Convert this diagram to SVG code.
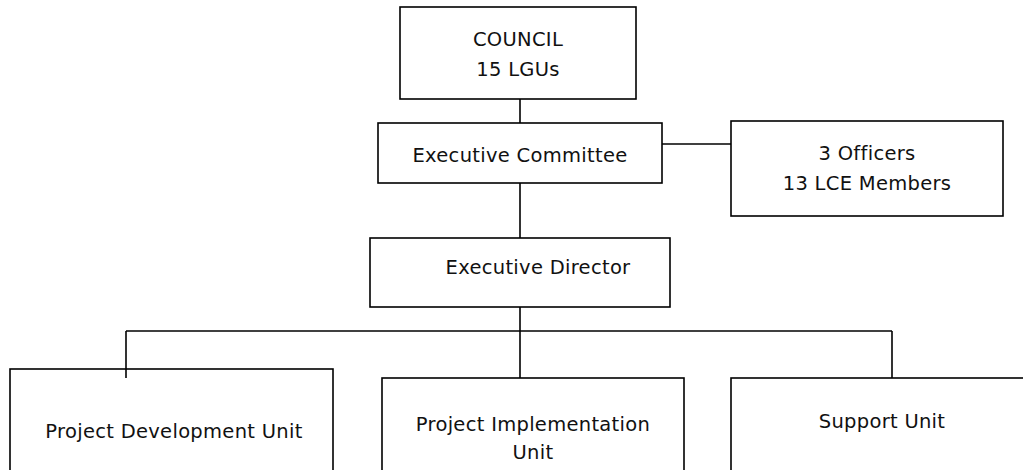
<svg xmlns="http://www.w3.org/2000/svg" width="1023" height="470" viewBox="0 0 1023 470">
  <style>
    .box { fill: #ffffff; stroke: #000000; stroke-width: 1.6; }
    .wire { fill: none; stroke: #000000; stroke-width: 1.6; }
    .lbl { font-family: "DejaVu Sans", "Liberation Sans", sans-serif; font-size: 19.5px; letter-spacing: 0.3px; fill: #111111; text-anchor: middle; }
  </style>
  <rect width="1023" height="470" fill="#ffffff"/>

  <!-- connectors -->
  <g id="connectors">
    <line class="wire" x1="520" y1="99" x2="520" y2="123"/>
    <line class="wire" x1="662" y1="144" x2="731" y2="144"/>
    <line class="wire" x1="520" y1="183" x2="520" y2="238"/>
    <line class="wire" x1="520" y1="307" x2="520" y2="378"/>
    <line class="wire" x1="126" y1="331" x2="892" y2="331"/>
    <line class="wire" x1="126" y1="331" x2="126" y2="378"/>
    <line class="wire" x1="892" y1="331" x2="892" y2="378"/>
  </g>

  <g id="council">
    <rect class="box" x="400" y="7" width="236" height="92"/>
    <text class="lbl" x="518" y="46">COUNCIL</text>
    <text class="lbl" x="518" y="76">15 LGUs</text>
  </g>

  <g id="executive-committee">
    <rect class="box" x="378" y="123" width="284" height="60"/>
    <text class="lbl" x="520" y="162">Executive Committee</text>
  </g>

  <g id="officers">
    <rect class="box" x="731" y="121" width="272" height="95"/>
    <text class="lbl" x="867" y="160">3 Officers</text>
    <text class="lbl" x="867" y="190">13 LCE Members</text>
  </g>

  <g id="executive-director">
    <rect class="box" x="370" y="238" width="300" height="69"/>
    <text class="lbl" x="538" y="274">Executive Director</text>
  </g>

  <g id="project-development-unit">
    <rect class="box" x="10" y="369" width="323" height="120"/>
    <line class="wire" x1="126" y1="369" x2="126" y2="378"/>
    <text class="lbl" x="174" y="438">Project Development Unit</text>
  </g>

  <g id="project-implementation-unit">
    <rect class="box" x="382" y="378" width="302" height="120"/>
    <text class="lbl" x="533" y="431">Project Implementation</text>
    <text class="lbl" x="533" y="459">Unit</text>
  </g>

  <g id="support-unit">
    <rect class="box" x="731" y="378" width="302" height="120"/>
    <text class="lbl" x="882" y="428">Support Unit</text>
  </g>
</svg>
